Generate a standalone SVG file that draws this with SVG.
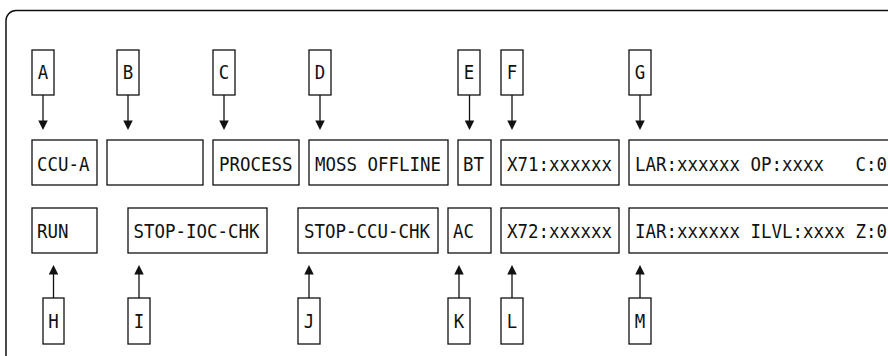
<svg xmlns="http://www.w3.org/2000/svg" width="888" height="356" viewBox="0 0 888 356">
  <style>
    .box { fill: #fff; stroke: #111; stroke-width: 1.3; }
    .frame { fill: none; stroke: #111; stroke-width: 1.5; }
    .txt { font-family: "DejaVu Sans Mono", "Liberation Mono", monospace; font-size: 19px; fill: #111; }
    .tag { text-anchor: middle; }
    .conn { stroke: #111; stroke-width: 1.3; fill: none; marker-end: url(#arrow); }
  </style>
  <defs>
    <marker id="arrow" viewBox="0 0 10 10" refX="8" refY="5" markerWidth="11" markerHeight="9.5" markerUnits="userSpaceOnUse" orient="auto">
      <path d="M0,0 L10,5 L0,10 z" fill="#111"/>
    </marker>
  </defs>
  <rect width="888" height="356" fill="#fff"/>

  <!-- panel outline (runs past the right and bottom edges) -->
  <rect class="frame" x="6" y="10.5" width="920" height="380" rx="10" ry="10"/>

  <!-- status fields, top row (10.5px per character cell) -->
  <g id="ccu-a"><rect class="box" x="32" y="140" width="65" height="45"/><text class="txt" x="37" y="170.5" textLength="52.5" lengthAdjust="spacingAndGlyphs">CCU-A</text></g>
  <g id="blank"><rect class="box" x="107" y="140" width="96" height="45"/></g>
  <g id="process"><rect class="box" x="213" y="140" width="86" height="45"/><text class="txt" x="219" y="170.5" textLength="73.5" lengthAdjust="spacingAndGlyphs">PROCESS</text></g>
  <g id="moss-offline"><rect class="box" x="309" y="140" width="139" height="45"/><text class="txt" x="315" y="170.5" textLength="126" lengthAdjust="spacingAndGlyphs">MOSS OFFLINE</text></g>
  <g id="bt"><rect class="box" x="458" y="140" width="33" height="45"/><text class="txt" x="463" y="170.5" textLength="21" lengthAdjust="spacingAndGlyphs">BT</text></g>
  <g id="x71"><rect class="box" x="501" y="140" width="118" height="45"/><text class="txt" x="507" y="170.5" textLength="105" lengthAdjust="spacingAndGlyphs">X71:xxxxxx</text></g>
  <g id="lar"><rect class="box" x="629" y="140" width="280" height="45"/><text class="txt" x="635" y="170.5" textLength="252" lengthAdjust="spacingAndGlyphs" xml:space="preserve">LAR:xxxxxx OP:xxxx   C:0</text></g>

  <!-- status fields, bottom row -->
  <g id="run"><rect class="box" x="32" y="208" width="65" height="45"/><text class="txt" x="37" y="238" textLength="31.5" lengthAdjust="spacingAndGlyphs">RUN</text></g>
  <g id="stop-ioc-chk"><rect class="box" x="128" y="208" width="139" height="45"/><text class="txt" x="133.5" y="238" textLength="126" lengthAdjust="spacingAndGlyphs">STOP-IOC-CHK</text></g>
  <g id="stop-ccu-chk"><rect class="box" x="298" y="208" width="140" height="45"/><text class="txt" x="304" y="238" textLength="126" lengthAdjust="spacingAndGlyphs">STOP-CCU-CHK</text></g>
  <g id="ac"><rect class="box" x="448" y="208" width="43" height="45"/><text class="txt" x="453" y="238" textLength="21" lengthAdjust="spacingAndGlyphs">AC</text></g>
  <g id="x72"><rect class="box" x="501" y="208" width="118" height="45"/><text class="txt" x="507" y="238" textLength="105" lengthAdjust="spacingAndGlyphs">X72:xxxxxx</text></g>
  <g id="iar"><rect class="box" x="629" y="208" width="280" height="45"/><text class="txt" x="635" y="238" textLength="252" lengthAdjust="spacingAndGlyphs">IAR:xxxxxx ILVL:xxxx Z:0</text></g>

  <!-- callout tags, top -->
  <g id="tag-a"><rect class="box" x="32" y="50" width="22" height="45"/><text class="txt tag" x="43" y="79" textLength="10.5" lengthAdjust="spacingAndGlyphs">A</text></g>
  <g id="tag-b"><rect class="box" x="117" y="50" width="22" height="45"/><text class="txt tag" x="128" y="79" textLength="10.5" lengthAdjust="spacingAndGlyphs">B</text></g>
  <g id="tag-c"><rect class="box" x="213" y="50" width="22" height="45"/><text class="txt tag" x="224" y="79" textLength="10.5" lengthAdjust="spacingAndGlyphs">C</text></g>
  <g id="tag-d"><rect class="box" x="309" y="50" width="22" height="45"/><text class="txt tag" x="320" y="79" textLength="10.5" lengthAdjust="spacingAndGlyphs">D</text></g>
  <g id="tag-e"><rect class="box" x="458" y="50" width="22" height="45"/><text class="txt tag" x="469" y="79" textLength="10.5" lengthAdjust="spacingAndGlyphs">E</text></g>
  <g id="tag-f"><rect class="box" x="501" y="50" width="22" height="45"/><text class="txt tag" x="512" y="79" textLength="10.5" lengthAdjust="spacingAndGlyphs">F</text></g>
  <g id="tag-g"><rect class="box" x="629" y="50" width="22" height="45"/><text class="txt tag" x="640" y="79" textLength="10.5" lengthAdjust="spacingAndGlyphs">G</text></g>

  <!-- callout tags, bottom -->
  <g id="tag-h"><rect class="box" x="43" y="298" width="21" height="46"/><text class="txt tag" x="53.5" y="327.5" textLength="10.5" lengthAdjust="spacingAndGlyphs">H</text></g>
  <g id="tag-i"><rect class="box" x="128" y="298" width="22" height="46"/><text class="txt tag" x="139" y="327.5" textLength="10.5" lengthAdjust="spacingAndGlyphs">I</text></g>
  <g id="tag-j"><rect class="box" x="298" y="298" width="22" height="46"/><text class="txt tag" x="309" y="327.5" textLength="10.5" lengthAdjust="spacingAndGlyphs">J</text></g>
  <g id="tag-k"><rect class="box" x="448" y="298" width="22" height="46"/><text class="txt tag" x="459" y="327.5" textLength="10.5" lengthAdjust="spacingAndGlyphs">K</text></g>
  <g id="tag-l"><rect class="box" x="501" y="298" width="22" height="46"/><text class="txt tag" x="512" y="327.5" textLength="10.5" lengthAdjust="spacingAndGlyphs">L</text></g>
  <g id="tag-m"><rect class="box" x="629" y="298" width="22" height="46"/><text class="txt tag" x="640" y="327.5" textLength="10.5" lengthAdjust="spacingAndGlyphs">M</text></g>

  <!-- connectors -->
  <g id="connectors">
    <line class="conn" x1="43" y1="95" x2="43" y2="128"/>
    <line class="conn" x1="128" y1="95" x2="128" y2="128"/>
    <line class="conn" x1="224" y1="95" x2="224" y2="128"/>
    <line class="conn" x1="320" y1="95" x2="320" y2="128"/>
    <line class="conn" x1="469.5" y1="95" x2="469.5" y2="128"/>
    <line class="conn" x1="512" y1="95" x2="512" y2="128"/>
    <line class="conn" x1="640" y1="95" x2="640" y2="128"/>

    <line class="conn" x1="53.5" y1="298" x2="53.5" y2="267"/>
    <line class="conn" x1="139" y1="298" x2="139" y2="267"/>
    <line class="conn" x1="309" y1="298" x2="309" y2="267"/>
    <line class="conn" x1="459" y1="298" x2="459" y2="267"/>
    <line class="conn" x1="512" y1="298" x2="512" y2="267"/>
    <line class="conn" x1="640" y1="298" x2="640" y2="267"/>
  </g>
</svg>
